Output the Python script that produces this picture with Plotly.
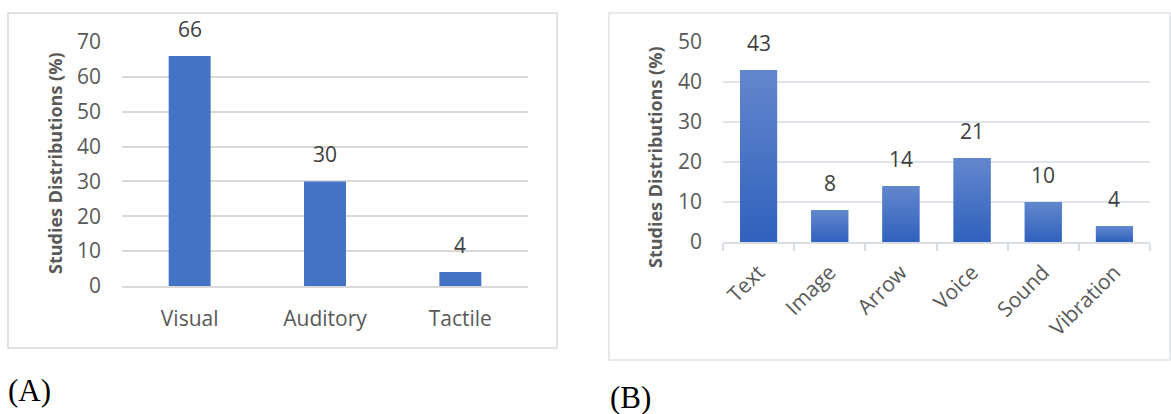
import plotly.graph_objects as go

# Panel A: modality of feedback
modality = ["Visual", "Auditory", "Tactile"]
modality_pct = [66, 30, 4]

# Panel B: form of feedback
feedback_form = ["Text", "Image", "Arrow", "Voice", "Sound", "Vibration"]
feedback_pct = [43, 8, 14, 21, 10, 4]

y_title = "Studies Distributions (%)"
panel_tags = ["(A)", "(B)"]

W, H = 1171, 414
FONT = "Open Sans, Liberation Sans, sans-serif"
TICK_COLOR = "#595959"
LABEL_COLOR = "#404040"
BAR_W_A = 0.31
BAR_W_B = 0.52


def px_x(v):
    return v / W


def px_y(v):
    return 1 - v / H


fig = go.Figure()

fig.add_trace(go.Bar(
    x=modality, y=modality_pct, width=BAR_W_A,
    marker=dict(color="#4472c4", line=dict(width=0)),
    xaxis="x", yaxis="y", hoverinfo="x+y",
))
fig.add_trace(go.Bar(
    x=feedback_form, y=feedback_pct, width=BAR_W_B,
    marker=dict(color="#4a74c8", line=dict(width=0)),
    xaxis="x2", yaxis="y2", hoverinfo="x+y",
))

# vertical light-to-dark shading on each bar of panel B
for i, val in enumerate(feedback_pct):
    half = BAR_W_B / 2
    fig.add_trace(go.Scatter(
        x=[i - half, i + half, i + half, i - half, i - half],
        y=[0, 0, val, val, 0],
        mode="lines", line=dict(width=0), fill="toself",
        fillgradient=dict(type="vertical",
                          colorscale=[[0, "#3061bd"], [1, "#6387cd"]]),
        xaxis="x3", yaxis="y2", hoverinfo="skip",
    ))

annotations = []
for cat, val in zip(modality, modality_pct):
    annotations.append(dict(
        x=cat, y=val, xref="x", yref="y", text=str(val), showarrow=False,
        yanchor="bottom", yshift=11, font=dict(family=FONT, size=21, color=LABEL_COLOR),
    ))
for cat, val in zip(feedback_form, feedback_pct):
    annotations.append(dict(
        x=cat, y=val, xref="x2", yref="y2", text=str(val), showarrow=False,
        yanchor="bottom", yshift=11, font=dict(family=FONT, size=21, color=LABEL_COLOR),
    ))

# vertical axis titles
annotations.append(dict(
    x=px_x(55), y=px_y(164), xref="paper", yref="paper", text=f"<b>{y_title}</b>",
    textangle=-90, showarrow=False, xanchor="center", yanchor="middle",
    font=dict(family=FONT, size=18, color=TICK_COLOR),
))
annotations.append(dict(
    x=px_x(655), y=px_y(158), xref="paper", yref="paper", text=f"<b>{y_title}</b>",
    textangle=-90, showarrow=False, xanchor="center", yanchor="middle",
    font=dict(family=FONT, size=18, color=TICK_COLOR),
))

# panel tags
tag_font = dict(family="Liberation Serif, Times New Roman, serif", size=31, color="black")
annotations.append(dict(
    x=px_x(6), y=px_y(390), xref="paper", yref="paper", text=panel_tags[0],
    showarrow=False, xanchor="left", yanchor="middle", font=tag_font,
))
annotations.append(dict(
    x=px_x(608), y=px_y(397), xref="paper", yref="paper", text=panel_tags[1],
    showarrow=False, xanchor="left", yanchor="middle", font=tag_font,
))

shapes = [
    dict(type="rect", xref="paper", yref="paper",
         x0=px_x(8), x1=px_x(557), y0=px_y(348), y1=px_y(13),
         line=dict(color="#d9d9d9", width=1.5)),
    dict(type="rect", xref="paper", yref="paper",
         x0=px_x(609), x1=px_x(1170), y0=px_y(360), y1=px_y(13),
         line=dict(color="#dfe3e8", width=1.5)),
]

tick_font = dict(family=FONT, size=21, color=TICK_COLOR)

fig.update_layout(
    width=W, height=H,
    margin=dict(l=0, r=0, t=0, b=0, autoexpand=False),
    paper_bgcolor="white", plot_bgcolor="white",
    showlegend=False,
    annotations=annotations,
    shapes=shapes,
    xaxis=dict(
        domain=[px_x(122), px_x(528)], anchor="y", automargin=False,
        type="category", range=[-0.5, 2.5],
        showline=True, linecolor="#d9d9d9", linewidth=1.5,
        ticks="", ticklabelstandoff=13, tickfont=tick_font,
        showgrid=False, zeroline=False, fixedrange=True,
    ),
    yaxis=dict(
        domain=[px_y(286), px_y(42)], anchor="x", automargin=False,
        range=[0, 70], dtick=10, tick0=0,
        showgrid=True, gridcolor="#d9d9d9", gridwidth=1.5,
        zeroline=False, showline=False, ticks="",
        ticklabelstandoff=20, tickfont=tick_font, fixedrange=True,
    ),
    xaxis2=dict(
        domain=[px_x(723), px_x(1150)], anchor="y2", automargin=False,
        type="category", range=[-0.5, 5.5],
        showline=True, linecolor="#d9dee5", linewidth=1.5,
        ticks="outside", tickson="boundaries", ticklen=7,
        tickcolor="#d9dee5", tickwidth=1.5,
        tickangle=-45, tickfont=tick_font, ticklabelstandoff=8,
        showgrid=False, zeroline=False, fixedrange=True,
    ),
    xaxis3=dict(
        domain=[px_x(723), px_x(1150)], anchor="y2", overlaying="x2",
        range=[-0.5, 5.5], visible=False, automargin=False, fixedrange=True,
    ),
    yaxis2=dict(
        domain=[px_y(242), px_y(42)], anchor="x2", automargin=False,
        range=[0, 50], dtick=10, tick0=0,
        showgrid=True, gridcolor="#dfe4ea", gridwidth=1.5,
        zeroline=False, showline=False, ticks="",
        ticklabelstandoff=20, tickfont=tick_font, fixedrange=True,
    ),
)

fig.write_html("out.html")
